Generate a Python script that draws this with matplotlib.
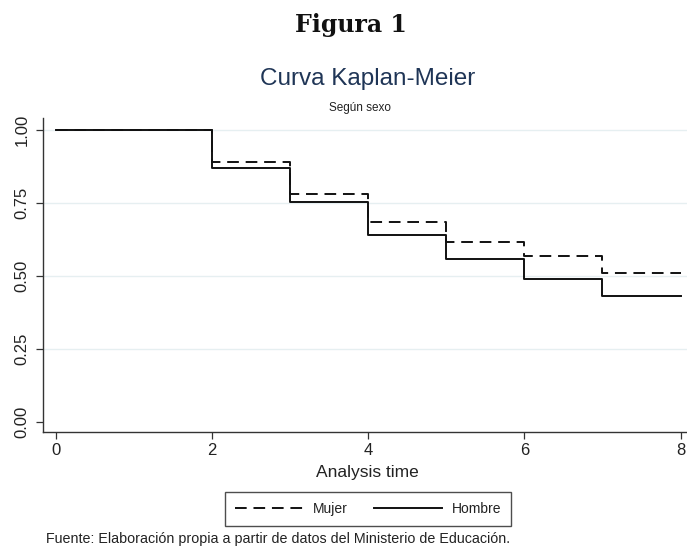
import matplotlib
matplotlib.use("Agg")
import matplotlib.pyplot as plt
from matplotlib.lines import Line2D

# Data
times = [0, 2, 3, 4, 5, 6, 7, 8]
mujer = [1.0, 0.891, 0.781, 0.686, 0.616, 0.567, 0.509, 0.509]
hombre = [1.0, 0.869, 0.752, 0.641, 0.559, 0.490, 0.430, 0.430]
xticks = [0, 2, 4, 6, 8]
yticks = [0.0, 0.25, 0.50, 0.75, 1.00]
ytick_labels = ["0.00", "0.25", "0.50", "0.75", "1.00"]

plt.rcParams['font.family'] = ['Liberation Sans', 'DejaVu Sans']

W, H = 687, 546
fig = plt.figure(figsize=(W / 100, H / 100), dpi=100)
ax = fig.add_axes([43 / W, (H - 432) / H, (687 - 43) / W, (432 - 118) / H])

ax.set_xlim(-0.163, 8.082)
ax.set_ylim(-0.0353, 1.0411)

for g in [0.25, 0.50, 0.75, 1.00]:
    ax.axhline(g, color='#e6eff1', lw=1.0, zorder=0)

ax.plot(times, mujer, drawstyle='steps-post', color='#111111', lw=1.4,
        dashes=(6, 3.5), zorder=3)
ax.plot(times, hombre, drawstyle='steps-post', color='#111111', lw=1.4, zorder=4)

for s in ['top', 'right']:
    ax.spines[s].set_visible(False)
for s in ['left', 'bottom']:
    ax.spines[s].set_color('#333333')
    ax.spines[s].set_linewidth(1.0)

ax.set_xticks(xticks)
ax.set_xticklabels([str(v) for v in xticks])
ax.set_yticks(yticks)
ax.set_yticklabels(ytick_labels, rotation=90, va='center')
ax.tick_params(axis='both', direction='out', length=5, width=0.9, color='#333333',
               labelsize=12, labelcolor='#222222')
ax.tick_params(axis='y', pad=4.5)
ax.tick_params(axis='x', pad=3)

fig.text(367 / W, 1 - 472 / H, "Analysis time", ha='center', va='center',
         fontsize=12.5, color='#222222')

fig.text(351 / W, 1 - 25 / H, "Figura 1", ha='center', va='center',
         fontsize=17, fontweight='bold', family=['DejaVu Serif'], color='#111111')
fig.text(368 / W, 1 - 79 / H, "Curva Kaplan-Meier", ha='center', va='center',
         fontsize=17.5, color='#1f3556')
fig.text(360 / W, 1 - 108 / H, "Según sexo", ha='center', va='center',
         fontsize=8.5, color='#222222')

handles = [Line2D([], [], color='#111111', lw=1.4, dashes=(6, 3.5)),
           Line2D([], [], color='#111111', lw=1.4)]
leg = fig.legend(handles, ["Mujer", "Hombre"], loc='center',
                 bbox_to_anchor=(368 / W, 1 - 509 / H), ncol=2, fontsize=10,
                 frameon=True, fancybox=False, handlelength=4.9,
                 handletextpad=0.72, columnspacing=1.9, borderpad=0.7)
leg.get_frame().set_edgecolor('#222222')
leg.get_frame().set_linewidth(1.0)
for t in leg.get_texts():
    t.set_color('#222222')

fig.text(278 / W, 1 - 539 / H,
         "Fuente: Elaboración propia a partir de datos del Ministerio de Educación.",
         ha='center', va='center', fontsize=10.3, color='#222222')

fig.savefig("out.png", dpi=100)
